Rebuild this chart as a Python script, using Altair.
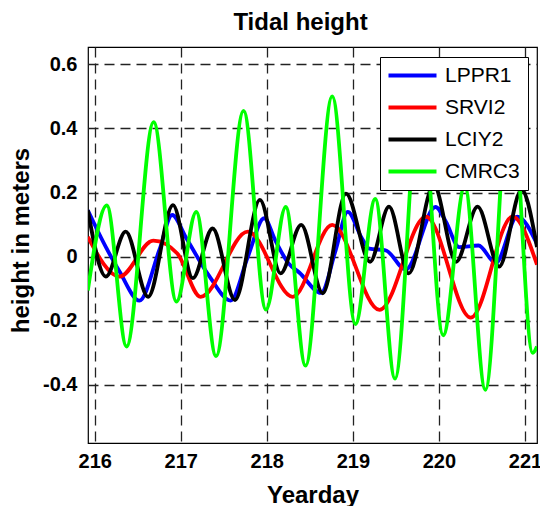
import altair as alt
import pandas as pd

series_names = ["LPPR1", "SRVI2", "LCIY2", "CMRC3"]
series_colors = ["#0000ff", "#ff0000", "#000000", "#00ff00"]
series_widths = [3.8, 3.8, 3.8, 2.6]

lppr1_day = [215.92, 216.13, 216.29, 216.52, 216.75, 216.90, 217.06, 217.33, 217.58, 217.78,
             217.97, 218.10, 218.25, 218.38, 218.63, 218.80, 218.94, 219.10, 219.19, 219.38,
             219.615, 219.96, 220.08, 220.235, 220.46, 220.66, 220.91, 221.14]
lppr1_h = [0.145, 0.03, -0.047, -0.137, 0.02, 0.13, 0.06, -0.06, -0.137, 0.0,
           0.12, 0.05, -0.02, -0.05, -0.113, 0.02, 0.14, 0.06, 0.025, 0.02,
           -0.04, 0.155, 0.11, 0.03, 0.035, -0.02, 0.125, 0.04]

srvi2_day = [215.92, 216.29, 216.68, 216.96, 217.23, 217.78, 218.30, 218.76, 219.31, 219.85,
             220.37, 220.855, 221.14]
srvi2_h = [0.062, -0.062, 0.05, 0.01, -0.125, 0.078, -0.125, 0.099, -0.166, 0.125,
           -0.19, 0.125, -0.025]

lciy2_day = [215.92, 216.13, 216.36, 216.62, 216.91, 217.14, 217.37, 217.63, 217.92, 218.16,
             218.40, 218.65, 218.92, 219.20, 219.42, 219.65, 219.94, 220.20, 220.45, 220.70,
             220.96, 221.14]
lciy2_h = [0.145, -0.062, 0.078, -0.125, 0.161, -0.067, 0.088, -0.135, 0.177, -0.052,
           0.099, -0.114, 0.197, -0.016, 0.156, -0.052, 0.223, -0.016, 0.156, -0.031,
           0.208, 0.03]

cmrc3_day = [215.92, 216.14, 216.37, 216.685, 216.95, 217.18, 217.41, 217.73, 217.99, 218.22,
             218.45, 218.76, 219.03, 219.26, 219.49, 219.78, 220.05, 220.30, 220.54, 220.83,
             221.09, 221.14]
cmrc3_h = [-0.105, 0.16, -0.28, 0.42, -0.14, 0.14, -0.31, 0.455, -0.165, 0.155,
           -0.34, 0.50, -0.21, 0.18, -0.38, 0.53, -0.245, 0.22, -0.415, 0.55,
           -0.30, -0.28]

x_ticks = [216, 217, 218, 219, 220, 221]
y_ticks = [-0.4, -0.2, 0, 0.2, 0.4, 0.6]

rows = []
for name, days, hs in [("LPPR1", lppr1_day, lppr1_h), ("SRVI2", srvi2_day, srvi2_h),
                       ("LCIY2", lciy2_day, lciy2_h), ("CMRC3", cmrc3_day, cmrc3_h)]:
    for i, (d, h) in enumerate(zip(days, hs)):
        rows.append({"series": name, "day": d, "height": h, "idx": i})
df = pd.DataFrame(rows)

FONT = "Liberation Sans"

chart = alt.Chart(df).mark_line(interpolate="monotone", clip=True).encode(
    x=alt.X("day:Q",
            scale=alt.Scale(domain=[215.922, 221.14], nice=False, zero=False),
            axis=alt.Axis(values=x_ticks, format="d", title="Yearday",
                          titleY=59, titleBaseline="alphabetic",
                          labelPadding=8)),
    y=alt.Y("height:Q",
            scale=alt.Scale(domain=[-0.581, 0.654], nice=False, zero=False),
            axis=alt.Axis(values=y_ticks, title="height in meters",
                          labelExpr="datum.value == 0 ? '0' : (datum.value < 0 ? '-' : '') + format(abs(datum.value), '.1f')",
                          titleX=-67, titleY=193, titleAngle=270,
                          titleBaseline="middle", titleAlign="center",
                          labelPadding=11)),
    color=alt.Color("series:N",
                    scale=alt.Scale(domain=series_names, range=series_colors),
                    sort=series_names,
                    legend=alt.Legend(title=None, orient="none", legendX=292, legendY=10,
                                      direction="vertical",
                                      symbolType="M-10,0H38", symbolSize=4,
                                      symbolStrokeWidth=3.8,
                                      labelFontSize=21, labelFont=FONT,
                                      labelColor="black",
                                      labelOffset=36, rowPadding=10, padding=8,
                                      strokeColor="black", fillColor="white")),
    strokeWidth=alt.StrokeWidth("series:N",
                                scale=alt.Scale(domain=series_names, range=series_widths),
                                legend=None),
    order=alt.Order("idx:Q"),
).properties(
    width=449, height=396,
    title=alt.TitleParams("Tidal height", fontSize=24, font=FONT, fontWeight="bold",
                          anchor="middle", dx=-12, offset=12, color="black"),
    autosize=alt.AutoSizeParams(type="none"),
    padding={"left": 88, "top": 47, "right": 3, "bottom": 63},
).configure_axis(
    domain=False, ticks=False, grid=True,
    gridDash=[10, 6], gridColor="#222222", gridWidth=1.3, gridOpacity=1,
    labelFont=FONT, labelFontSize=20, labelFontWeight="bold", labelColor="black",
    titleFont=FONT, titleFontSize=24, titleFontWeight="bold", titleColor="black",
).configure_view(
    stroke="black", strokeWidth=1.2
)

chart.save("out.html", embed_options={"renderer": "svg", "actions": False})
